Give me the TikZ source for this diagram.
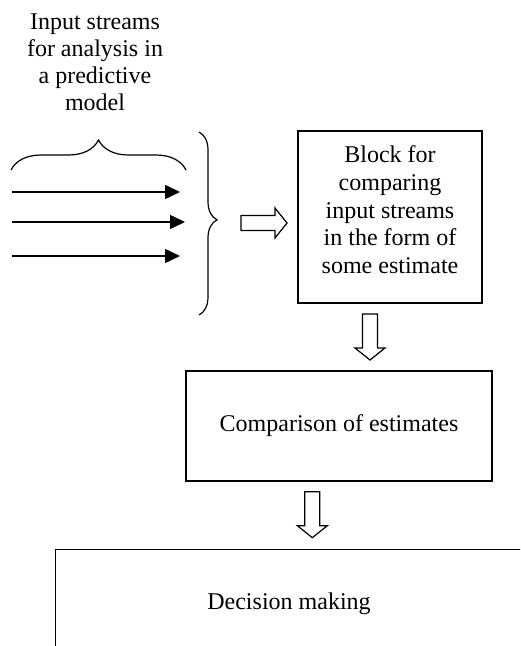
\documentclass[tikz,border=0pt]{standalone}
\usepackage{fontspec}
\setmainfont{Liberation Serif}
\usepackage{tikz}
\usetikzlibrary{arrows.meta,decorations.pathreplacing}
\tikzset{
  caja/.style={draw=black,line width=0.75pt,inner sep=0pt},
  texto/.style={align=center,inner sep=0pt,font=\fontsize{12}{13.9}\selectfont},
  flecha/.pic={\draw[fill=white,line width=0.6pt,line join=miter]
    (0,7.5) -- (34,7.5) -- (34,15) -- (46,0) -- (34,-15) -- (34,-7.5) -- (0,-7.5) -- cycle;},
  flujo/.style={-{Triangle[length=7.5pt,width=7pt]},line width=0.75pt},
  llave/.style={decorate,line width=0.6pt}
}

\begin{document}
\begin{tikzpicture}[x=0.5pt,y=0.5pt]
\useasboundingbox (0,0) rectangle (520,-646);
\clip (0,0) rectangle (520,-646);
% entradas
\node[texto,anchor=north,font=\fontsize{12}{13.45}\selectfont] (titulo) at (95,-13.4)
  {Input streams\\for analysis in\\a predictive\\model};
\draw[llave,decoration={brace,amplitude=15pt}] (11,-170) -- (186,-170);
\foreach \y/\x in {192/180,222/185,256/180}{
  \draw[flujo] (12,-\y) -- (\x,-\y);}
\draw[llave,decoration={brace,amplitude=9pt,aspect=0.48}] (199,-132) -- (199,-315);
% bloques
\pic at (241,-223) {flecha};
\node[caja,minimum width=92pt,minimum height=86pt] (comp) at (390,-217) {};
\node[texto,anchor=north] (tcomp) at (390,-145.3)
  {Block for\\comparing\\input streams\\in the form of\\some estimate};
\pic[rotate=-90] at (370,-314) {flecha};
\node[caja,texto,minimum width=153pt,minimum height=55pt] (est) at (339,-426) {Comparison of estimates};
\pic[rotate=-90] at (312.3,-491.7) {flecha};
\node[caja,texto,minimum width=233.3pt,minimum height=54.5pt] (dec) at (289,-604) {Decision making};
\end{tikzpicture}
\end{document}
